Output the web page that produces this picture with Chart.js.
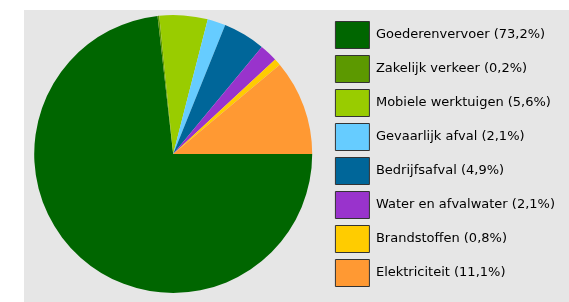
<!DOCTYPE html>
<html lang="nl">
  <head>
    <meta charset="UTF-8" />
    <title>Pie Chart</title>
    <script src="https://cdn.jsdelivr.net/npm/chart.js"></script>
    <style>
      body { margin: 0; background: #ffffff; }
      #bg {
        position: absolute;
        left: 24px;
        top: 10px;
        width: 545px;
        height: 292px;
        background: #e6e6e6;
      }
      #wrap {
        position: absolute;
        left: 18px;
        top: 10px;
        width: 551px;
        height: 292px;
      }
    </style>
  </head>
  <body>
    <div id="bg"></div>
    <div id="wrap">
      <canvas id="myChart" width="551" height="292"></canvas>
    </div>

    <script>
      // categorieen en aandelen (%)
      const labels = [
        "Goederenvervoer",
        "Zakelijk verkeer",
        "Mobiele werktuigen",
        "Gevaarlijk afval",
        "Bedrijfsafval",
        "Water en afvalwater",
        "Brandstoffen",
        "Elektriciteit",
      ];
      const shares = [73.2, 0.2, 5.6, 2.1, 4.9, 2.1, 0.8, 11.1];
      const shareText = ["73,2", "0,2", "5,6", "2,1", "4,9", "2,1", "0,8", "11,1"];
      const colors = [
        "#006600", "#5c9900", "#99cc00", "#66ccff",
        "#006699", "#9933cc", "#ffcc00", "#ff9933",
      ];

      const ctx = document.getElementById("myChart").getContext("2d");

      new Chart(ctx, {
        type: "pie",
        data: {
          labels: labels,
          datasets: [
            {
              data: shares,
              backgroundColor: colors,
              borderWidth: 0,
              radius: 139,
            },
          ],
        },
        options: {
          responsive: false,
          animation: false,
          rotation: 90,
          layout: { padding: { left: 0, right: 4, top: 0, bottom: 4 } },
          plugins: {
            tooltip: { enabled: false },
            legend: {
              display: true,
              position: "right",
              labels: {
                boxWidth: 34,
                boxHeight: 27,
                padding: 7,
                color: "#333333",
                font: { family: "DejaVu Sans", size: 13 },
                generateLabels(chart) {
                  return labels.map((l, i) => ({
                    text: l + " (" + shareText[i] + "%)",
                    fillStyle: colors[i],
                    strokeStyle: "#333333",
                    lineWidth: 1,
                    index: i,
                  }));
                },
              },
            },
          },
        },
      });
    </script>
  </body>
</html>
